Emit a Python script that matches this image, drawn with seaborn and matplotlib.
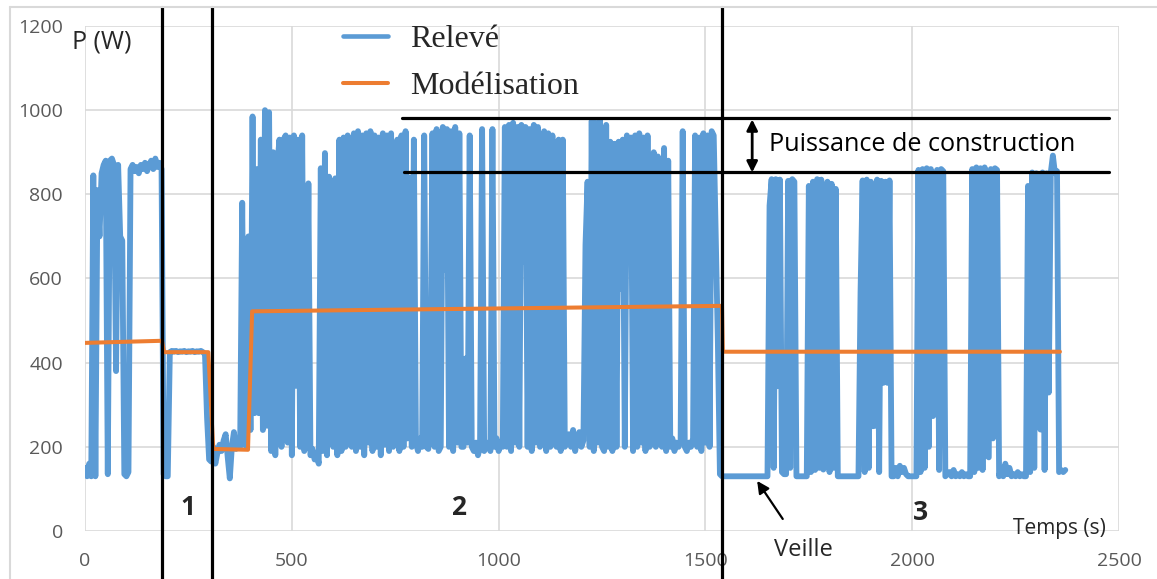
import numpy as np
import pandas as pd
import matplotlib
matplotlib.use("Agg")
import matplotlib.pyplot as plt
from matplotlib.lines import Line2D
import seaborn as sns

BLUE = "#5B9BD5"
ORANGE = "#ED7D31"
GRID = "#D9D9D9"
TICK = "#595959"

# pas d'echantillonnage du releve (s)
DT = 5

# puissance relevee (W), un point toutes les 5 s
p_zone0 = [150, 130, 160, 130, 845, 130, 810, 700, 850, 870, 880, 135, 880, 885, 870, 380,
           870, 700, 690, 135, 130, 140, 860, 870, 855, 865, 850, 870, 860, 875, 855, 870,
           880, 860, 885, 865, 875, 860]
p_zone1 = [135, 130, 130, 425, 428, 426, 428, 425, 427, 426, 428, 425, 427, 426, 428, 425,
           427, 426, 428, 425, 420, 270, 170, 165]
p_zone2 = [200, 160, 185, 205, 190, 215, 230, 175, 125, 200, 235, 195, 215, 200, 780, 210, 200, 700, 240, 985,
           280, 860, 280, 930, 240, 1000, 250, 995, 190, 900, 180, 870, 930, 200, 930, 940, 210, 935, 180, 940,
           345, 930, 200, 940, 190, 210, 826, 180, 195, 170, 185, 160, 862, 190, 898, 180, 842, 790, 200, 838,
           180, 930, 190, 935, 200, 940, 210, 200, 945, 190, 950, 200, 940, 180, 945, 210, 950, 190, 940, 200,
           935, 180, 945, 205, 940, 190, 945, 200, 210, 930, 190, 940, 200, 950, 220, 840, 200, 930, 210, 190,
           220, 200, 940, 200, 195, 350, 945, 200, 955, 190, 200, 960, 620, 955, 200, 950, 190, 960, 210, 945,
           200, 200, 410, 210, 940, 200, 190, 210, 180, 200, 955, 190, 200, 210, 190, 955, 200, 220, 190, 210,
           200, 960, 200, 965, 190, 970, 210, 960, 200, 965, 640, 960, 200, 955, 190, 965, 210, 960, 200, 210,
           950, 190, 945, 200, 940, 210, 200, 930, 190, 930, 200, 210, 230, 200, 240, 190, 220, 235, 200, 215,
           680, 830, 200, 975, 190, 970, 210, 975, 200, 190, 965, 200, 925, 190, 920, 200, 925, 575, 930, 200,
           940, 750, 935, 190, 940, 200, 945, 210, 935, 190, 940, 200, 210, 900, 200, 890, 210, 200, 910, 190,
           880, 200, 220, 190, 210, 200, 215, 950, 200, 190, 210, 200, 220, 940, 200, 935, 190, 945, 210, 940,
           200, 950, 940, 700, 450, 135, 130]
p_zone3 = [130] * 22 + [
    773, 836, 150, 836, 344, 835, 140, 135, 135, 832, 150, 836, 830, 130,
    130, 130, 130, 130, 130,
    820, 140, 830, 145, 836, 150, 835, 146, 368, 830, 140, 825, 150, 813, 130,
    130, 130, 130, 130, 130, 130, 130, 130, 130, 130,
    567, 833, 140, 835, 150, 830, 249, 250, 835, 140, 832, 352, 830, 352, 833, 130,
    130, 150, 130, 155, 140, 150, 135, 130, 130, 130, 130, 130,
    858, 140, 860, 150, 862, 200, 860, 273, 280, 858, 145, 860, 855, 130,
    135, 140, 130, 145, 130, 135, 130, 140, 130, 135, 130, 130,
    860, 140, 864, 150, 862, 145, 864, 180, 175, 860, 220, 862, 858, 130,
    150, 130, 160, 135, 150, 130, 135, 130, 140, 130, 135, 130, 130,
    820, 140, 852, 150, 850, 257, 241, 852, 145, 850, 329, 852, 892, 850, 855, 140, 145, 140, 145]

# modelisation par phases (s, W)
mod_t = [0, 186, 191, 298, 310, 394, 404, 1540, 1542, 2357]
mod_p = [447, 452, 425, 425, 195, 193, 522, 535, 426, 426]

# limites des phases (s) et bande "puissance de construction" (W)
phase_limits = [186, 307, 1540]
band_levels = [982, 854]
band_start = [766, 770]
band_end = 2476

releve = pd.DataFrame({"P": p_zone0 + p_zone1 + p_zone2 + p_zone3})
releve["t"] = np.arange(len(releve)) * DT
modele = pd.DataFrame({"t": mod_t, "P": mod_p})

sns.set_style("white")
plt.rcParams["font.family"] = ["Open Sans", "DejaVu Sans"]

fig = plt.figure(figsize=(11.57, 5.79), dpi=100)
ax = fig.add_axes([0.0735, 0.0829, 0.8937, 0.8722])

sns.lineplot(data=releve, x="t", y="P", ax=ax, color=BLUE, lw=4.2,
             estimator=None, sort=False, legend=False, zorder=3)
sns.lineplot(data=modele, x="t", y="P", ax=ax, color=ORANGE, lw=2.9,
             estimator=None, sort=False, legend=False, zorder=4)

ax.set_xlim(0, 2500)
ax.set_ylim(0, 1200)
ax.set_xticks(range(0, 2501, 500))
ax.set_yticks(range(0, 1201, 200))
ax.grid(True, color=GRID, lw=1.2)
ax.set_axisbelow(True)
for s in ax.spines.values():
    s.set_visible(False)
ax.tick_params(length=0, labelsize=14, colors=TICK)
ax.tick_params(axis="y", pad=16)
ax.tick_params(axis="x", pad=15)
ax.set_xlabel("")
ax.set_ylabel("")

for x in phase_limits:
    ax.axvline(x, ymin=-0.095, ymax=1.038, color="black", lw=2.3,
               clip_on=False, zorder=6)
for y, x0 in zip(band_levels, band_start):
    ax.plot([x0, band_end], [y, y], color="black", lw=2.3, zorder=6)

ax.annotate("", xy=(1613, 852), xytext=(1613, 978),
            arrowprops=dict(arrowstyle="<|-|>", color="black", lw=2,
                            mutation_scale=16, shrinkA=0, shrinkB=0), zorder=7)
ax.text(1654, 918, "Puissance de construction", fontsize=18.2,
        ha="left", va="center", color="black", zorder=7)

ax.text(-31, 1162, "P (W)", fontsize=18, ha="left", va="center", clip_on=False)
ax.text(2357, 7, "Temps (s)", fontsize=15, ha="center", va="center", zorder=7)
for lab, x, y in [("1", 249, 55), ("2", 902, 55), ("3", 2021, 45)]:
    ax.text(x, y, lab, fontsize=19, fontweight="bold", ha="center",
            va="center", zorder=7)
ax.annotate("Veille", xy=(1625, 119), xytext=(1738, -46), fontsize=17,
            ha="center", va="center", annotation_clip=False,
            arrowprops=dict(arrowstyle="-|>", color="black", lw=1.6,
                            mutation_scale=18, shrinkA=14, shrinkB=0))

handles = [Line2D([], [], color=BLUE, lw=3.3), Line2D([], [], color=ORANGE, lw=2.9)]
fig.legend(handles, ["Relevé", "Modélisation"], loc="upper left",
           bbox_to_anchor=(343 / 1157, 1 - 25 / 579), frameon=False,
           prop={"family": "Liberation Serif", "size": 23},
           handlelength=1.42, handletextpad=0.68, labelspacing=0.55,
           borderpad=0, borderaxespad=0)

# cadre du graphique
fig.add_artist(Line2D([10 / 1157, 1], [1 - 7 / 579] * 2, color=GRID, lw=1.5))
fig.add_artist(Line2D([10 / 1157] * 2, [0, 1 - 7 / 579], color=GRID, lw=1.5))

fig.savefig("out.png", dpi=100)
